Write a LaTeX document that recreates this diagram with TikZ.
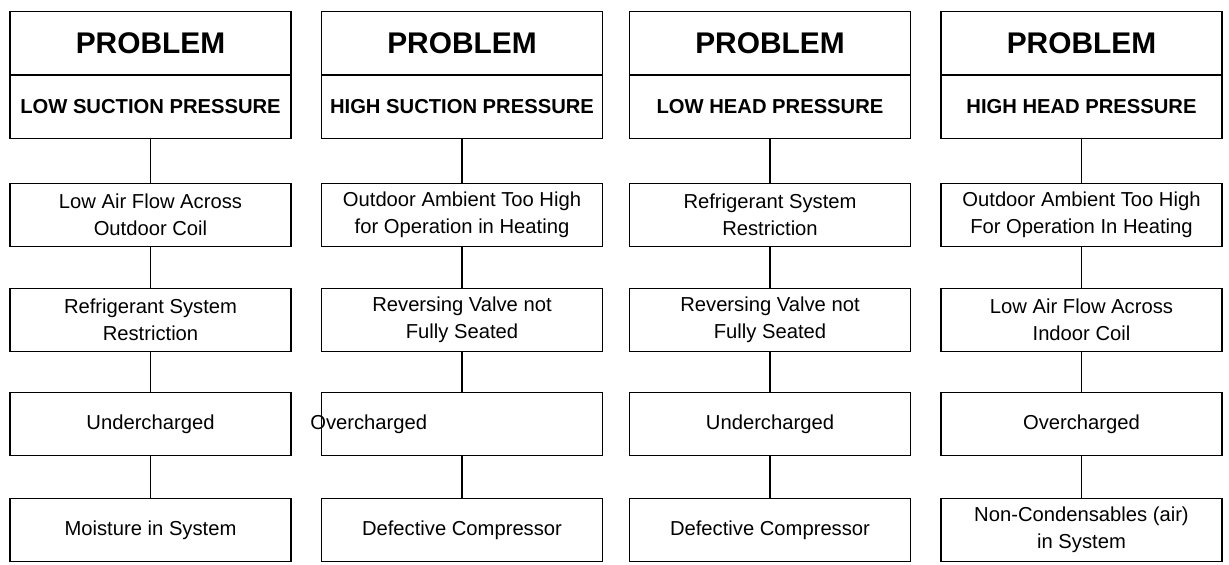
\documentclass[tikz,border=0pt]{standalone}
\usepackage{fontspec}
\setmainfont{Liberation Sans}
\usetikzlibrary{positioning}

\begin{document}
\begin{tikzpicture}[
    box/.style={draw, thick, rectangle, minimum width=5.62cm, minimum height=1.27cm, align=center, inner sep=1pt, font=\fontsize{11.5}{15.5}\selectfont},
    headbox/.style={box, font=\bfseries\fontsize{17}{19}\selectfont},
    subbox/.style={box, font=\bfseries\fontsize{11.5}{13}\selectfont}]
    \useasboundingbox (0,0) rectangle (24.58,11.3);
    % one column per problem
    \foreach \c/\x/\sub/\ca/\cb/\cc/\cd in {
        1/3.01/{LOW SUCTION PRESSURE}/{Low Air Flow Across\\Outdoor Coil}/{Refrigerant System\\Restriction}/{Undercharged}/{Moisture in System},
        2/9.24/{HIGH SUCTION PRESSURE}/{Outdoor Ambient Too High\\for Operation in Heating}/{Reversing Valve not\\Fully Seated}/{}/{Defective Compressor},
        3/15.40/{LOW HEAD PRESSURE}/{Refrigerant System\\Restriction}/{Reversing Valve not\\Fully Seated}/{Undercharged}/{Defective Compressor},
        4/21.63/{HIGH HEAD PRESSURE}/{Outdoor Ambient Too High\\For Operation In Heating}/{Low Air Flow Across\\Indoor Coil}/{Overcharged}/{Non-Condensables (air)\\in System}} {
        \node[headbox] (p\c) at (\x,10.43) {PROBLEM};
        \node[subbox] (s\c) at (\x,9.17) {\sub};
        \node[box] (a\c) at (\x,7.00) {\ca};
        \node[box] (b\c) at (\x,4.90) {\cb};
        \node[box] (u\c) at (\x,2.82) {\cc};
        \node[box] (d\c) at (\x,0.70) {\cd};
        \draw[thick] (s\c) -- (a\c);
        \draw[thick] (a\c) -- (b\c);
        \draw[thick] (b\c) -- (u\c);
        \draw[thick] (u\c) -- (d\c);
    }
    % shifted label in the second column
    \node[font=\fontsize{11.5}{13.5}\selectfont, anchor=west, inner sep=0pt] (over2) at (6.2,2.82) {Overcharged};
\end{tikzpicture}
\end{document}
